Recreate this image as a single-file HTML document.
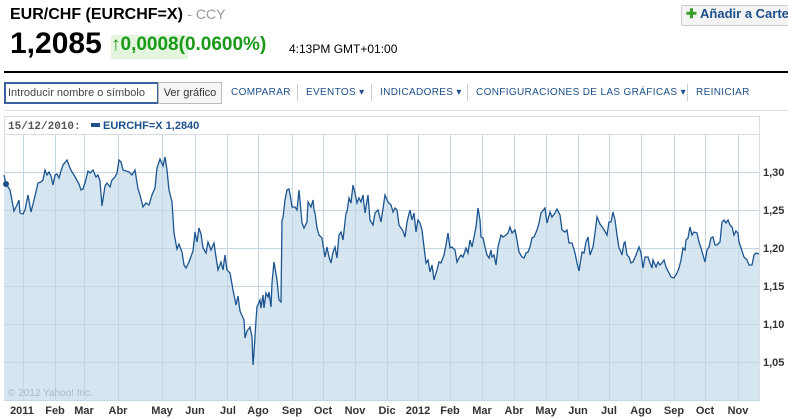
<!DOCTYPE html>
<html><head><meta charset="utf-8"><style>
body{margin:0;width:788px;height:419px;background:#fff;font-family:"Liberation Sans",Arial,sans-serif;position:relative;overflow:hidden}
.a{position:absolute;white-space:nowrap}
.n{font-size:10px;color:#1d4f8a;letter-spacing:0.35px;top:87px}
</style></head><body>
<div class="a" style="left:10px;top:6px;font-size:16px;font-weight:bold;color:#000">EUR/CHF (EURCHF=X) <span style="font-weight:normal;color:#999;font-size:14px">- CCY</span></div>
<div class="a" style="left:10px;top:27px;font-size:30px;font-weight:bold;color:#000">1,2085</div>
<div class="a" style="left:111px;top:35px;height:24px;width:77px;background:#e3f5dd"></div>
<div class="a" style="left:111px;top:34px;font-size:19px;font-weight:bold;color:#1a9a1a">&#x2191;0,0008(0.0600%)</div>
<div class="a" style="left:289px;top:42px;font-size:12px;color:#000">4:13PM GMT+01:00</div>
<div class="a" style="left:681px;top:5px;width:120px;height:19px;border:1px solid #ccc;border-radius:2px;background:#f4f4f4"></div>
<div class="a" style="left:686px;top:6px;font-size:13px;font-weight:bold;color:#1d4f8a"><span style="color:#3a9c2a">&#x271A;</span> Añadir a Cartera</div>
<div class="a" style="left:4px;top:71px;width:784px;height:2px;background:#000"></div>
<div class="a" style="left:4px;top:82px;width:149px;height:18px;border:2px solid #3d5f9e;font-size:11px;color:#444;line-height:18px;padding-left:2px">Introducir nombre o símbolo</div>
<div class="a" style="left:158px;top:82px;width:62px;height:20px;border:1px solid #bbb;background:#f6f6f6;font-size:11px;color:#333;line-height:20px;text-align:center">Ver gráfico</div>
<div class="a n" style="left:231px">COMPARAR</div>
<div class="a" style="left:297px;top:84px;width:1px;height:17px;background:#ccc"></div>
<div class="a n" style="left:306px">EVENTOS &#x25BE;</div>
<div class="a" style="left:371px;top:84px;width:1px;height:17px;background:#ccc"></div>
<div class="a n" style="left:380px">INDICADORES &#x25BE;</div>
<div class="a" style="left:467px;top:84px;width:1px;height:17px;background:#ccc"></div>
<div class="a n" style="left:476px">CONFIGURACIONES DE LAS GRÁFICAS &#x25BE;</div>
<div class="a" style="left:687px;top:84px;width:1px;height:17px;background:#ccc"></div>
<div class="a n" style="left:696px">REINICIAR</div>
<div class="a" style="left:4px;top:110px;width:784px;height:1px;background:#ddd"></div>
<svg class="a" style="left:0;top:0" width="788" height="419">
<rect x="4.5" y="116.5" width="755" height="284" fill="#fff" stroke="#d8dee3"/>
<line x1="4" y1="134.5" x2="759" y2="134.5" stroke="#d8dee3"/>
<text x="8" y="129" font-size="11" font-weight="bold" fill="#555" font-family="Liberation Mono,monospace">15/12/2010:</text>
<rect x="91" y="123" width="9" height="4" fill="#1d4f8a"/>
<text x="103" y="129" font-size="11" font-weight="bold" fill="#1d4f8a">EURCHF=X 1,2840</text>
<polygon fill="#d6e6f1" points="4,400 4,175 6,184 10,190 14,211 17,205 19,200 20,213 23,214 25,210 28,195 31,212 35,196 38,183 41,182 43,180 45,170 47,175 49,172 51,176 53,185 55,175 57,174 59,178 61,171 63,165 67,160 70,168 72,172 74,175 79,184 81,190 83,189 85,183 88,171 90,173 93,170 96,177 98,175 100,181 102,206 105,186 107,183 110,187 112,180 115,177 117,173 119,160 121,162 123,170 126,171 129,172 132,175 135,170 138,189 140,195 143,207 146,203 149,205 152,195 155,188 157,168 160,159 163,166 165,157 167,170 169,190 172,202 174,233 177,249 179,244 182,252 184,265 186,268 189,262 193,251 195,232 197,242 199,228 201,234 203,248 206,253 208,242 211,250 214,243 216,257 218,270 221,262 223,270 225,255 227,270 230,273 233,290 236,305 238,296 240,311 244,320 245,338 247,331 250,327 252,337 253,365 254,353 256,320 257,307 260,300 261,308 263,295 264,308 266,293 268,297 269,292 271,307 272,283 274,262 277,280 279,300 281,302 282,220 283,218 285,200 287,190 289,189 291,200 292,207 295,207 297,210 299,190 302,223 304,228 307,222 308,202 311,207 313,200 314,210 315,213 317,228 319,235 322,238 323,245 325,257 327,247 329,257 331,263 333,252 335,247 337,258 339,235 341,232 343,240 346,213 347,212 349,198 351,203 353,185 355,193 357,203 359,198 361,202 363,195 365,213 368,195 370,220 373,225 375,213 378,210 381,222 385,195 388,202 391,205 393,212 395,208 397,210 399,225 403,231 405,237 407,222 410,210 412,220 414,213 416,232 418,220 420,223 422,230 424,247 426,263 428,260 430,272 432,265 434,280 437,270 439,262 441,263 444,255 446,245 448,233 450,248 452,247 455,250 457,262 459,258 461,255 463,257 466,248 468,253 470,240 472,247 474,237 476,227 478,208 480,220 481,237 483,238 485,247 487,255 489,258 491,250 492,257 494,255 496,265 498,247 501,235 503,237 506,235 508,233 510,227 512,233 515,230 517,240 519,252 522,257 524,258 526,253 528,252 530,247 532,238 534,237 537,230 539,223 541,213 545,208 547,223 550,212 552,217 555,213 557,209 560,215 562,230 565,232 567,230 569,243 572,243 575,253 577,263 579,271 582,252 584,253 586,242 588,237 590,255 593,247 595,233 597,217 600,224 603,228 607,235 609,222 611,222 613,212 615,220 617,235 619,248 621,252 622,255 624,243 625,242 627,255 629,257 631,263 633,262 636,255 639,247 641,253 643,268 645,257 648,257 650,263 652,268 653,260 656,267 658,262 660,265 662,263 664,260 666,267 669,273 671,277 674,278 677,273 679,268 681,260 683,248 685,250 686,240 688,238 690,227 692,235 694,232 697,233 699,242 701,248 703,255 705,262 707,250 709,247 711,238 713,237 715,245 717,245 720,242 722,222 724,220 726,223 728,220 730,225 732,227 734,235 736,231 738,233 739,242 741,248 744,257 747,260 749,265 752,265 754,255 756,253 759,254 759,400"/>
<g stroke="#c4d6e3" stroke-width="1">
<line x1="4" y1="172.5" x2="759" y2="172.5"/><line x1="4" y1="210.5" x2="759" y2="210.5"/><line x1="4" y1="248.5" x2="759" y2="248.5"/><line x1="4" y1="286.5" x2="759" y2="286.5"/><line x1="4" y1="324.5" x2="759" y2="324.5"/><line x1="4" y1="362.5" x2="759" y2="362.5"/>
<line x1="23.5" y1="135" x2="23.5" y2="400"/><line x1="55.5" y1="135" x2="55.5" y2="400"/><line x1="84.5" y1="135" x2="84.5" y2="400"/><line x1="118.5" y1="135" x2="118.5" y2="400"/><line x1="162.5" y1="135" x2="162.5" y2="400"/><line x1="195.5" y1="135" x2="195.5" y2="400"/><line x1="227.5" y1="135" x2="227.5" y2="400"/><line x1="258.5" y1="135" x2="258.5" y2="400"/><line x1="292.5" y1="135" x2="292.5" y2="400"/><line x1="323.5" y1="135" x2="323.5" y2="400"/><line x1="355.5" y1="135" x2="355.5" y2="400"/><line x1="387.5" y1="135" x2="387.5" y2="400"/><line x1="418.5" y1="135" x2="418.5" y2="400"/><line x1="450.5" y1="135" x2="450.5" y2="400"/><line x1="482.5" y1="135" x2="482.5" y2="400"/><line x1="514.5" y1="135" x2="514.5" y2="400"/><line x1="546.5" y1="135" x2="546.5" y2="400"/><line x1="578.5" y1="135" x2="578.5" y2="400"/><line x1="609.5" y1="135" x2="609.5" y2="400"/><line x1="641.5" y1="135" x2="641.5" y2="400"/><line x1="674.5" y1="135" x2="674.5" y2="400"/><line x1="705.5" y1="135" x2="705.5" y2="400"/><line x1="738.5" y1="135" x2="738.5" y2="400"/>
</g>
<polyline fill="none" stroke="#1d5590" stroke-width="1.3" points="4,175 6,184 10,190 14,211 17,205 19,200 20,213 23,214 25,210 28,195 31,212 35,196 38,183 41,182 43,180 45,170 47,175 49,172 51,176 53,185 55,175 57,174 59,178 61,171 63,165 67,160 70,168 72,172 74,175 79,184 81,190 83,189 85,183 88,171 90,173 93,170 96,177 98,175 100,181 102,206 105,186 107,183 110,187 112,180 115,177 117,173 119,160 121,162 123,170 126,171 129,172 132,175 135,170 138,189 140,195 143,207 146,203 149,205 152,195 155,188 157,168 160,159 163,166 165,157 167,170 169,190 172,202 174,233 177,249 179,244 182,252 184,265 186,268 189,262 193,251 195,232 197,242 199,228 201,234 203,248 206,253 208,242 211,250 214,243 216,257 218,270 221,262 223,270 225,255 227,270 230,273 233,290 236,305 238,296 240,311 244,320 245,338 247,331 250,327 252,337 253,365 254,353 256,320 257,307 260,300 261,308 263,295 264,308 266,293 268,297 269,292 271,307 272,283 274,262 277,280 279,300 281,302 282,220 283,218 285,200 287,190 289,189 291,200 292,207 295,207 297,210 299,190 302,223 304,228 307,222 308,202 311,207 313,200 314,210 315,213 317,228 319,235 322,238 323,245 325,257 327,247 329,257 331,263 333,252 335,247 337,258 339,235 341,232 343,240 346,213 347,212 349,198 351,203 353,185 355,193 357,203 359,198 361,202 363,195 365,213 368,195 370,220 373,225 375,213 378,210 381,222 385,195 388,202 391,205 393,212 395,208 397,210 399,225 403,231 405,237 407,222 410,210 412,220 414,213 416,232 418,220 420,223 422,230 424,247 426,263 428,260 430,272 432,265 434,280 437,270 439,262 441,263 444,255 446,245 448,233 450,248 452,247 455,250 457,262 459,258 461,255 463,257 466,248 468,253 470,240 472,247 474,237 476,227 478,208 480,220 481,237 483,238 485,247 487,255 489,258 491,250 492,257 494,255 496,265 498,247 501,235 503,237 506,235 508,233 510,227 512,233 515,230 517,240 519,252 522,257 524,258 526,253 528,252 530,247 532,238 534,237 537,230 539,223 541,213 545,208 547,223 550,212 552,217 555,213 557,209 560,215 562,230 565,232 567,230 569,243 572,243 575,253 577,263 579,271 582,252 584,253 586,242 588,237 590,255 593,247 595,233 597,217 600,224 603,228 607,235 609,222 611,222 613,212 615,220 617,235 619,248 621,252 622,255 624,243 625,242 627,255 629,257 631,263 633,262 636,255 639,247 641,253 643,268 645,257 648,257 650,263 652,268 653,260 656,267 658,262 660,265 662,263 664,260 666,267 669,273 671,277 674,278 677,273 679,268 681,260 683,248 685,250 686,240 688,238 690,227 692,235 694,232 697,233 699,242 701,248 703,255 705,262 707,250 709,247 711,238 713,237 715,245 717,245 720,242 722,222 724,220 726,223 728,220 730,225 732,227 734,235 736,231 738,233 739,242 741,248 744,257 747,260 749,265 752,265 754,255 756,253 759,254"/>
<circle cx="6" cy="184" r="3" fill="#1d4f8a"/>
<line x1="4" y1="400.5" x2="759" y2="400.5" stroke="#c4d6e3"/>
<text x="8" y="396" font-size="10" fill="#aab8c4">© 2012 Yahoo! Inc.</text>
<g font-size="11" font-weight="bold" fill="#333">
<text x="763" y="176">1,30</text><text x="763" y="214">1,25</text><text x="763" y="252">1,20</text><text x="763" y="290">1,15</text><text x="763" y="328">1,10</text><text x="763" y="366">1,05</text>
</g>
<g font-size="11" font-weight="bold" fill="#333" text-anchor="middle">
<text x="22" y="414">2011</text><text x="55" y="414">Feb</text><text x="84" y="414">Mar</text><text x="118" y="414">Abr</text><text x="162" y="414">May</text><text x="195" y="414">Jun</text><text x="228" y="414">Jul</text><text x="258" y="414">Ago</text><text x="292" y="414">Sep</text><text x="323" y="414">Oct</text><text x="355" y="414">Nov</text><text x="387" y="414">Dic</text><text x="418" y="414">2012</text><text x="450" y="414">Feb</text><text x="482" y="414">Mar</text><text x="514" y="414">Abr</text><text x="546" y="414">May</text><text x="578" y="414">Jun</text><text x="609" y="414">Jul</text><text x="641" y="414">Ago</text><text x="674" y="414">Sep</text><text x="705" y="414">Oct</text><text x="738" y="414">Nov</text>
</g>
</svg>
</body></html>
